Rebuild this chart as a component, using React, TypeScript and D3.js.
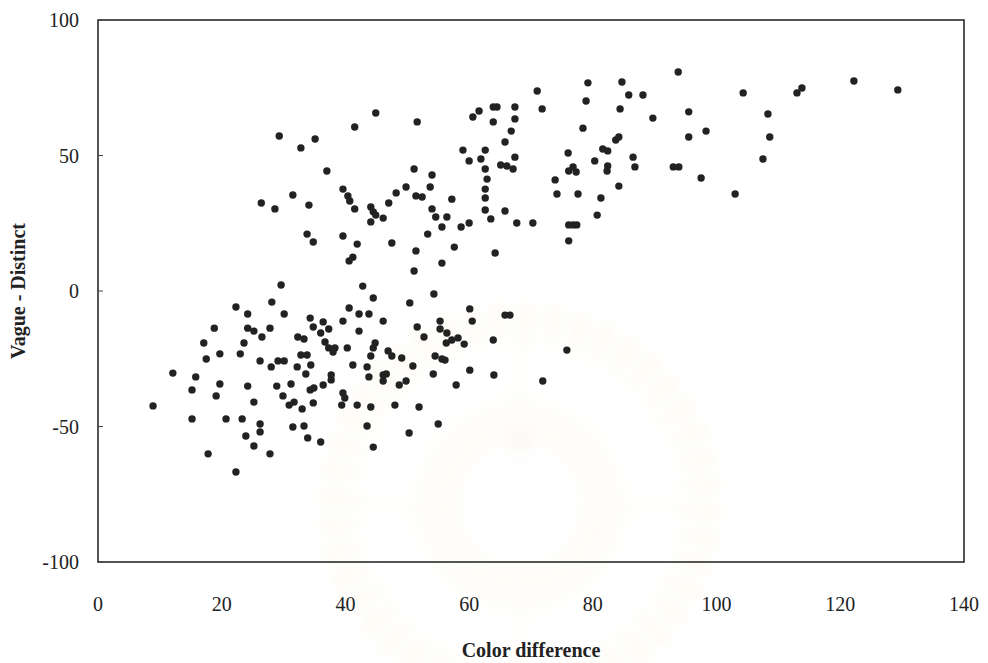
import React from "react";
import * as d3 from "d3";

// Colour difference (x) and vague–distinct rating (y) of each observation
const colorDiff: number[] = [
  22.3, 28.1, 24.2, 30.1, 18.8, 24.2, 25.2, 27.8, 26.5, 17.1, 23.6, 32.3, 33.3, 34.3,
  17.5, 19.7, 23.0, 26.2, 28.0, 29.1, 30.1, 32.2, 32.8, 33.8, 33.6, 12.1, 15.8, 15.2,
  19.7, 19.1, 24.2, 25.2, 28.9, 31.2, 29.9, 30.9, 31.7, 33.0, 34.3, 8.9, 15.2, 20.7,
  23.3, 26.2, 26.2, 23.9, 25.2, 31.5, 33.3, 33.9, 17.8, 27.8, 22.3,
  42.8, 44.5, 54.3, 50.4, 60.1, 60.5, 40.6, 42.2, 43.8, 39.6, 46.1, 36.4, 34.8, 37.3,
  36.0, 42.2, 51.6, 55.3, 55.3, 56.4, 52.7, 56.3, 57.2, 58.2, 59.2, 36.7, 37.3, 38.3,
  38.0, 40.3, 44.8, 44.5, 44.1, 46.9, 47.5, 49.1, 54.5, 55.6, 56.1, 34.4, 41.2, 43.5,
  43.8, 46.1, 46.6, 46.1, 50.9, 54.2, 60.1, 37.7, 37.7, 36.4, 34.9, 48.7, 49.8, 57.9,
  39.6, 39.9, 39.4, 34.8, 41.9, 44.1, 48.0, 51.9, 43.5, 55.0, 50.3, 36.0, 44.5,
  65.8, 66.6, 63.9, 75.8, 64.0, 71.9,
  44.9, 51.6, 41.5, 29.3, 32.8, 35.1, 37.0, 51.1, 26.4, 28.6, 31.5, 34.1, 39.6, 40.4,
  40.7, 41.5, 44.1, 44.5, 44.9, 44.1, 46.1, 47.0, 48.2, 49.8, 51.4, 33.8, 34.8, 39.6,
  41.9, 47.5, 41.2, 40.6, 51.4, 51.1, 29.6,
  79.2, 78.9, 78.4, 71.0, 71.8, 60.6, 61.6, 63.9, 64.5, 67.4, 63.9, 67.4, 66.8, 65.8,
  59.0, 62.6, 60.0, 61.9, 62.6, 65.1, 66.1, 67.1, 67.4, 62.9, 62.6, 62.6, 62.6, 63.5,
  65.8, 67.7, 70.3, 64.2, 54.0, 53.7, 52.4, 57.2, 54.0, 54.6, 56.4, 55.6, 58.7, 60.0,
  53.3, 57.6, 55.6, 76.0, 81.6, 82.4, 80.3, 76.1, 76.8, 77.3, 73.9, 74.2, 77.6, 81.3,
  80.7, 76.1, 76.8, 77.4, 76.1,
  84.7, 93.8, 85.8, 88.1, 104.3, 84.4, 89.7, 95.5, 108.3, 98.3, 95.5, 108.6, 83.7, 84.2,
  86.5, 86.8, 82.4, 82.3, 93.0, 93.9, 107.5, 97.5, 84.2, 103.0,
  113.0, 113.8, 122.2, 129.3,
];

const vagueDistinct: number[] = [
  -5.9, -4.1, -8.5, -8.5, -13.7, -13.7, -14.8, -13.7, -17.0, -19.2, -19.2, -17.0, -17.7, -10.0,
  -25.1, -23.2, -23.2, -25.8, -28.0, -25.8, -25.8, -28.0, -23.6, -23.6, -30.6, -30.3, -31.7, -36.5,
  -34.3, -38.7, -35.1, -41.0, -35.1, -34.3, -38.7, -42.1, -41.0, -43.5, -36.5, -42.4, -47.2, -47.2,
  -47.2, -49.1, -52.0, -53.5, -57.2, -50.2, -49.8, -54.2, -60.1, -60.1, -66.8,
  1.8, -2.6, -1.1, -4.4, -6.6, -11.1, -6.3, -8.5, -8.5, -11.1, -11.1, -11.4, -13.3, -14.0,
  -15.5, -14.8, -13.3, -11.1, -14.0, -15.5, -17.0, -19.2, -18.1, -17.3, -19.6, -18.8, -21.0, -21.0,
  -22.5, -21.0, -19.2, -21.0, -24.0, -22.1, -24.0, -24.7, -24.0, -25.1, -25.5, -27.3, -27.3, -28.0,
  -31.7, -31.0, -30.6, -33.2, -27.7, -30.6, -29.2, -31.0, -32.8, -34.7, -35.8, -34.7, -33.2, -34.7,
  -37.6, -39.5, -42.1, -41.3, -42.1, -42.8, -42.1, -42.8, -49.8, -49.1, -52.4, -55.7, -57.6,
  -8.9, -8.9, -18.1, -21.8, -31.0, -33.2,
  65.7, 62.4, 60.5, 57.2, 52.8, 56.1, 44.3, 45.0, 32.5, 30.3, 35.4, 31.7, 37.6, 35.1,
  33.2, 30.3, 31.0, 29.2, 28.0, 25.5, 26.9, 32.5, 36.2, 38.4, 35.1, 21.0, 18.1, 20.3,
  17.3, 17.7, 12.5, 11.1, 14.8, 7.4, 2.2,
  76.8, 70.1, 60.1, 73.8, 67.2, 64.2, 66.4, 67.9, 67.9, 67.9, 62.4, 63.5, 59.0, 55.0,
  52.0, 52.0, 48.0, 48.7, 45.0, 46.5, 46.1, 45.0, 49.4, 41.3, 37.6, 34.3, 29.9, 26.6,
  29.5, 25.1, 25.1, 14.0, 42.8, 38.4, 34.7, 33.9, 30.3, 27.3, 27.3, 23.6, 23.6, 25.1,
  21.0, 16.2, 10.3, 50.9, 52.4, 51.7, 48.0, 44.3, 45.8, 43.9, 41.0, 35.8, 35.8, 34.3,
  28.0, 24.4, 24.4, 24.4, 18.5,
  77.1, 80.8, 72.3, 72.3, 73.1, 67.2, 63.8, 66.1, 65.3, 59.0, 56.8, 56.8, 55.7, 56.8,
  49.4, 45.8, 46.1, 44.3, 45.8, 45.8, 48.7, 41.7, 38.7, 35.8,
  73.1, 74.9, 77.5, 74.2,
];

const xTicks: number[] = [0, 20, 40, 60, 80, 100, 120, 140];
const yTicks: number[] = [100, 50, 0, -50, -100];

const W = 988;
const H = 663;
const plot = { left: 98, right: 964, top: 20, bottom: 562 };

const x = d3.scaleLinear().domain([0, 140]).range([plot.left, plot.right]);
const y = d3.scaleLinear().domain([-100, 100]).range([plot.bottom, plot.top]);

const serif = "'Liberation Serif', 'Times New Roman', serif";

// faint sunburst emblem printed behind the chart
const emblemCx = 520;
const emblemCy = 505;
const rayCount = 44;
const rays = d3.range(rayCount).map((i) => {
  const a0 = (i / rayCount) * Math.PI * 2;
  const a1 = a0 + (Math.PI * 2) / rayCount / 2;
  return d3.arc()({ innerRadius: 62, outerRadius: 200, startAngle: a0, endAngle: a1 }) as string;
});

export default function App() {
  const points = colorDiff.map((cx, i) => ({ cx, cy: vagueDistinct[i] }));
  return (
    <svg
      width={W}
      height={H}
      style={{ position: "absolute", left: 0, top: 0, background: "#fff" }}
      fontFamily={serif}
    >
      <defs>
        <radialGradient id="rayFill" cx="0.5" cy="0.5" r="0.5">
          <stop offset="0.3" stopColor="#fffefb" stopOpacity="0" />
          <stop offset="0.6" stopColor="#fdfaf0" stopOpacity="1" />
          <stop offset="1" stopColor="#fbf3dc" stopOpacity="0.9" />
        </radialGradient>
        <filter id="soft" x="-20%" y="-20%" width="140%" height="140%">
          <feGaussianBlur stdDeviation="6" />
        </filter>
      </defs>

      <g transform={`translate(${emblemCx},${emblemCy})`} filter="url(#soft)" opacity={0.45}>
        {rays.map((d, i) => (
          <path key={i} d={d} fill="url(#rayFill)" />
        ))}
        <circle cx={0} cy={-66} r={13} fill="#f6f3ea" />
        <rect x={-1.5} y={-53} width={3} height={110} fill="#f6f3ea" />
      </g>

      {/* plot frame */}
      <rect
        x={plot.left}
        y={plot.top}
        width={plot.right - plot.left}
        height={plot.bottom - plot.top}
        fill="none"
        stroke="#2a2a2a"
        strokeWidth={1.6}
      />

      {/* y ticks and labels */}
      {yTicks.map((t) => (
        <g key={t}>
          <line x1={plot.left} x2={plot.left + 5} y1={y(t)} y2={y(t)} stroke="#444" strokeWidth={1} />
          <text x={79} y={y(t)} dy="0.35em" textAnchor="end" fontSize={20} fill="#222">
            {t}
          </text>
        </g>
      ))}

      {/* x tick labels */}
      {xTicks.map((t) => (
        <text key={t} x={x(t)} y={611} textAnchor="middle" fontSize={20} fill="#222">
          {t}
        </text>
      ))}

      {/* axis titles */}
      <text x={531} y={657} textAnchor="middle" fontSize={20} fontWeight="bold" fill="#222">
        Color difference
      </text>
      <text
        transform={`translate(25,${(plot.top + plot.bottom) / 2}) rotate(-90)`}
        textAnchor="middle"
        fontSize={20}
        fontWeight="bold"
        fill="#222"
      >
        Vague - Distinct
      </text>

      {/* observations */}
      <g fill="#222">
        {points.map((p, i) => (
          <circle key={i} cx={x(p.cx)} cy={y(p.cy)} r={3.7} />
        ))}
      </g>
    </svg>
  );
}
